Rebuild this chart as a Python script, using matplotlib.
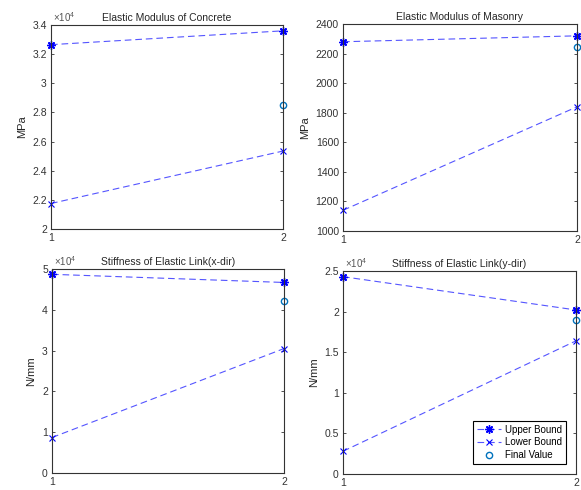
import matplotlib
matplotlib.use('Agg')
import matplotlib.pyplot as plt
from matplotlib.ticker import FuncFormatter

plt.rcParams['font.family'] = ['Liberation Sans', 'DejaVu Sans']
plt.rcParams['mathtext.fontset'] = 'custom'
plt.rcParams['mathtext.rm'] = 'Liberation Sans'

# iteration index on x
iterations = [1, 2]

titles = ['Elastic Modulus of Concrete', 'Elastic Modulus of Masonry',
          'Stiffness of Elastic Link(x-dir)', 'Stiffness of Elastic Link(y-dir)']
ylabels = ['MPa', 'MPa', 'N/mm', 'N/mm']

concrete_upper = [32650, 33600]
concrete_lower = [21750, 25350]
concrete_final = 28500

masonry_upper = [2280, 2320]
masonry_lower = [1140, 1840]
masonry_final = 2245

linkx_upper = [48700, 46700]
linkx_lower = [8700, 30500]
linkx_final = 42200

linky_upper = [24300, 20200]
linky_lower = [2800, 16400]
linky_final = 19000

ylims = [(20000, 34000), (1000, 2400), (0, 50000), (0, 25000)]
yticks = [
    [20000, 22000, 24000, 26000, 28000, 30000, 32000, 34000],
    [1000, 1200, 1400, 1600, 1800, 2000, 2200, 2400],
    [0, 10000, 20000, 30000, 40000, 50000],
    [0, 5000, 10000, 15000, 20000, 25000],
]

uppers = [concrete_upper, masonry_upper, linkx_upper, linky_upper]
lowers = [concrete_lower, masonry_lower, linkx_lower, linky_lower]
finals = [concrete_final, masonry_final, linkx_final, linky_final]

fig = plt.figure(figsize=(5.81, 4.90), dpi=100)

# axes boxes in pixels: left, top, right, bottom
boxes = [(51, 25, 283, 229), (343, 24, 577, 231),
         (52, 269, 284, 473), (343, 271, 576, 474)]
W, H = 581, 490

line_color = '#5555ff'
text_color = '#262626'
asterisk = (8, 2, 0)  # matlab-like '*' marker
for i in range(4):
    l, t, r, b = boxes[i]
    ax = fig.add_axes([l / W, 1 - b / H, (r - l) / W, (b - t) / H])
    ax.plot(iterations, uppers[i], linestyle='--', dashes=(6, 3.5), color=line_color,
            lw=0.8, marker=asterisk, markersize=6, markeredgecolor='blue',
            markeredgewidth=1.0, label='Upper Bound', clip_on=False)
    ax.plot(iterations, lowers[i], linestyle='--', dashes=(6, 3.5), color=line_color,
            lw=0.8, marker='x', markersize=5, markeredgecolor='blue',
            markeredgewidth=0.8, label='Lower Bound', clip_on=False)
    ax.plot([iterations[1]], [finals[i]], linestyle='none', marker='o',
            markersize=4.5, markerfacecolor='none', markeredgecolor='#0072BD',
            markeredgewidth=1.0, label='Final Value', clip_on=False)
    ax.set_xlim(1, 2)
    ax.set_xticks(iterations)
    ax.set_ylim(*ylims[i])
    ax.set_yticks(yticks[i])
    if ylims[i][1] > 10000:
        ax.yaxis.set_major_formatter(FuncFormatter(lambda v, p: '%g' % (v / 1e4)))
        ax.text(0.01, 1.005, r'$\times10^{4}$', transform=ax.transAxes,
                fontsize=7, color='#555555', ha='left', va='bottom')
    else:
        ax.yaxis.set_major_formatter(FuncFormatter(lambda v, p: '%g' % v))
    ax.set_title(titles[i], fontsize=7.5, pad=3, color=text_color)
    ax.set_ylabel(ylabels[i], fontsize=8, color=text_color, labelpad=4)
    ax.tick_params(direction='in', length=2.5, width=0.6, labelsize=7.5,
                   colors='#333333', top=True, right=True, pad=3)
    for sp in ax.spines.values():
        sp.set_color('#333333')
        sp.set_linewidth(0.8)
    if i == 3:
        leg = ax.legend(loc='lower right', fontsize=7, fancybox=False,
                        framealpha=1, edgecolor='black', borderpad=0.4,
                        labelspacing=0.3, handlelength=2.4, handletextpad=0.5,
                        borderaxespad=1.0)
        leg.get_frame().set_linewidth(0.8)

fig.savefig('out.png', dpi=100)
plt.close(fig)
